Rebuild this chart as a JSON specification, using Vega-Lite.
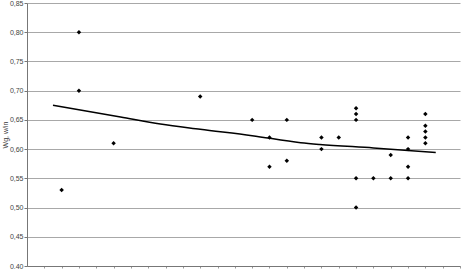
{
  "$schema": "https://vega.github.io/schema/vega-lite/v6.json",
  "width": 433,
  "height": 263,
  "autosize": "none",
  "padding": {"left": 27, "top": 3, "right": 2, "bottom": 3},
  "background": "white",
  "config": {
    "view": {"stroke": null},
    "font": "Liberation Sans"
  },
  "datasets": {
    "pts": [
      {"k": 2, "w": 0.53},
      {"k": 3, "w": 0.80}, {"k": 3, "w": 0.70},
      {"k": 5, "w": 0.61},
      {"k": 10, "w": 0.69},
      {"k": 13, "w": 0.65},
      {"k": 14, "w": 0.62}, {"k": 14, "w": 0.57},
      {"k": 15, "w": 0.65}, {"k": 15, "w": 0.58},
      {"k": 17, "w": 0.62}, {"k": 17, "w": 0.60},
      {"k": 18, "w": 0.62},
      {"k": 19, "w": 0.67}, {"k": 19, "w": 0.66}, {"k": 19, "w": 0.65}, {"k": 19, "w": 0.55}, {"k": 19, "w": 0.50},
      {"k": 20, "w": 0.55},
      {"k": 21, "w": 0.59}, {"k": 21, "w": 0.55},
      {"k": 22, "w": 0.62}, {"k": 22, "w": 0.60}, {"k": 22, "w": 0.57}, {"k": 22, "w": 0.55},
      {"k": 23, "w": 0.66}, {"k": 23, "w": 0.64}, {"k": 23, "w": 0.63}, {"k": 23, "w": 0.62}, {"k": 23, "w": 0.61}
    ],
    "trend": [
      {"k": 1.5, "w": 0.675},
      {"k": 5.4, "w": 0.655},
      {"k": 7.7, "w": 0.643},
      {"k": 10, "w": 0.634},
      {"k": 13, "w": 0.623},
      {"k": 15.8, "w": 0.611},
      {"k": 16.9, "w": 0.608},
      {"k": 20, "w": 0.602},
      {"k": 23.6, "w": 0.594}
    ]
  },
  "encoding": {
    "x": {
      "field": "k", "type": "quantitative",
      "scale": {"domain": [0, 25], "nice": false, "zero": false},
      "axis": {
        "title": null, "labels": false, "grid": false,
        "values": [1,2,3,4,5,6,7,8,9,10,11,12,13,14,15,16,17,18,19,20,21,22,23,24,25],
        "tickSize": 2, "tickColor": "#999999", "domainColor": "#777777", "domainWidth": 1
      }
    },
    "y": {
      "field": "w", "type": "quantitative",
      "scale": {"domain": [0.40, 0.85], "nice": false, "zero": false},
      "axis": {
        "title": "Wg, w/in",
        "titleFontSize": 7, "titleFontWeight": "normal", "titleColor": "#333333",
        "titlePadding": 1,
        "values": [0.40, 0.45, 0.50, 0.55, 0.60, 0.65, 0.70, 0.75, 0.80, 0.85],
        "labelExpr": "replace(format(datum.value, '.2f'), '.', ',')",
        "labelOverlap": false, "labelBound": false, "labelFlush": false,
        "labelFontSize": 7, "labelColor": "#444444", "labelPadding": 1,
        "tickSize": 3, "tickColor": "#777777",
        "grid": true, "gridColor": "#a8a8a8", "gridWidth": 1,
        "domainColor": "#777777"
      }
    }
  },
  "layer": [
    {
      "data": {"name": "pts"},
      "mark": {"type": "point", "shape": "diamond", "filled": true, "color": "black", "size": 20, "opacity": 1}
    },
    {
      "data": {"name": "trend"},
      "mark": {"type": "line", "color": "black", "strokeWidth": 1.5, "interpolate": "monotone"}
    }
  ]
}
